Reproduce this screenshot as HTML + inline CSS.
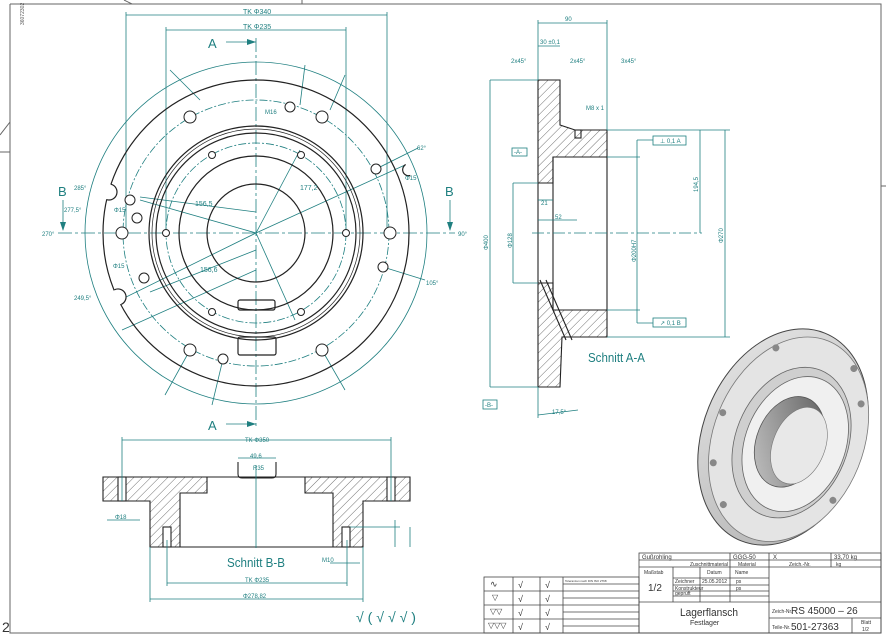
<!DOCTYPE html>
<html><head><meta charset="utf-8"><style>
html,body{margin:0;padding:0;background:#fff}
svg{display:block}
text{font-family:"Liberation Sans",sans-serif}
</style></head><body>
<svg width="886" height="637" viewBox="0 0 886 637" xmlns="http://www.w3.org/2000/svg">
<defs>
<pattern id="h" width="6" height="6" patternUnits="userSpaceOnUse" patternTransform="rotate(45)">
<line x1="0" y1="0" x2="0" y2="6" stroke="#333" stroke-width="0.7"/></pattern>
<linearGradient id="g1" x1="0" y1="0" x2="1" y2="1"><stop offset="0" stop-color="#e6e6e6"/><stop offset="1" stop-color="#b0b0b0"/></linearGradient>
<linearGradient id="g2" x1="1" y1="0" x2="0" y2="1"><stop offset="0" stop-color="#5a5a5a"/><stop offset="1" stop-color="#c8c8c8"/></linearGradient>
</defs>
<g stroke="#666" stroke-width="1" fill="none">
<polyline points="10,4 881,4 881,633 10,633 10,4"/>
<line x1="302" y1="0" x2="302" y2="4"/><line x1="124" y1="0" x2="132" y2="4"/>
<line x1="0" y1="152" x2="10" y2="152"/><line x1="0" y1="135" x2="10" y2="122"/>
<line x1="881" y1="186" x2="886" y2="186"/>
</g>
<text x="3" y="40" font-size="5" fill="#555" transform="rotate(-90 6 22)">36072302</text>
<text x="2" y="632" font-size="14" fill="#333">2</text>

<g fill="none" stroke="#1f7f80" stroke-width="0.8">
<circle cx="256" cy="233" r="171"/>
<circle cx="256" cy="233" r="133" stroke-dasharray="8,2,2,2"/>
<circle cx="256" cy="233" r="90" stroke-dasharray="8,2,2,2"/>
<line x1="58" y1="233" x2="455" y2="233" stroke-dasharray="14,3,3,3"/>
<line x1="256" y1="38" x2="256" y2="428" stroke-dasharray="14,3,3,3"/>
<line x1="126" y1="12" x2="126" y2="233"/><line x1="387" y1="12" x2="387" y2="233"/>
<line x1="166" y1="27" x2="166" y2="233"/><line x1="346" y1="27" x2="346" y2="233"/>
<line x1="126" y1="15" x2="387" y2="15"/><line x1="166" y1="30" x2="346" y2="30"/>
<line x1="226" y1="42" x2="256" y2="42"/><line x1="226" y1="424" x2="256" y2="424"/>
<line x1="63" y1="200" x2="63" y2="230"/><line x1="450" y1="200" x2="450" y2="230"/>
<line x1="256" y1="233" x2="405" y2="165"/><line x1="256" y1="233" x2="140" y2="200"/>
<line x1="256" y1="233" x2="120" y2="300"/><line x1="256" y1="233" x2="300" y2="150"/>
<line x1="256" y1="233" x2="295" y2="320"/>
<line x1="140" y1="197" x2="256" y2="212"/><line x1="150" y1="292" x2="256" y2="250"/>
<line x1="122" y1="330" x2="256" y2="270"/>
<line x1="200" y1="100" x2="170" y2="70"/><line x1="300" y1="105" x2="305" y2="65"/>
<line x1="330" y1="110" x2="345" y2="75"/><line x1="322" y1="350" x2="345" y2="390"/>
<line x1="190" y1="350" x2="165" y2="395"/><line x1="223" y1="359" x2="212" y2="405"/>
<line x1="383" y1="267" x2="425" y2="280"/><line x1="376" y1="169" x2="418" y2="148"/>
</g>
<g fill="#1f7f80">
<polygon points="256,42 247,39 247,45"/><polygon points="256,424 247,421 247,427"/>
<polygon points="63,231 60,222 66,222"/><polygon points="450,231 447,222 453,222"/>
</g>
<g fill="none" stroke="#222" stroke-width="1.2">
<circle cx="256" cy="233" r="153"/>
<circle cx="256" cy="233" r="107"/><circle cx="256" cy="233" r="104" stroke-width="0.7"/>
<circle cx="256" cy="233" r="100"/><circle cx="256" cy="233" r="77"/>
<circle cx="256" cy="233" r="49"/>
<rect x="238" y="300" width="37" height="10" rx="2"/><rect x="238" y="337" width="38" height="18" rx="2"/>
</g>
<g fill="#fff" stroke="none">
<circle cx="109" cy="192" r="7.6"/><circle cx="118" cy="297" r="7.6"/><circle cx="408" cy="170" r="5.6"/>
</g>
<g fill="none" stroke="#222" stroke-width="1.2">
<path d="M111.2,184.3 A8,8 0 0 1 106.8,199.7"/>
<path d="M114.6,289.7 A8,8 0 0 1 121.4,304.3"/>
<path d="M405.7,164.5 A6,6 0 0 0 410.3,175.5"/>
</g>
<g fill="#fff" stroke="#222" stroke-width="1">
<circle cx="190" cy="117" r="6"/><circle cx="290" cy="107" r="5"/><circle cx="322" cy="117" r="6"/>
<circle cx="376" cy="169" r="5"/><circle cx="390" cy="233" r="6"/><circle cx="383" cy="267" r="5"/>
<circle cx="322" cy="350" r="6"/><circle cx="223" cy="359" r="5"/><circle cx="190" cy="350" r="6"/>
<circle cx="144" cy="278" r="5"/><circle cx="122" cy="233" r="6"/><circle cx="137" cy="218" r="5"/>
<circle cx="130" cy="200" r="5"/>
<circle cx="212" cy="155" r="3.5"/><circle cx="301" cy="155" r="3.5"/><circle cx="212" cy="312" r="3.5"/>
<circle cx="301" cy="312" r="3.5"/><circle cx="346" cy="233" r="3.5"/><circle cx="166" cy="233" r="3.5"/>
</g>
<g fill="#1f7f80" font-size="7">
<text x="243" y="14">TK Φ340</text><text x="243" y="29">TK Φ235</text>
<text x="208" y="48" font-size="13">A</text><text x="208" y="430" font-size="13">A</text>
<text x="58" y="196" font-size="13">B</text><text x="445" y="196" font-size="13">B</text>
<text x="42" y="236" font-size="6">270°</text><text x="458" y="236" font-size="6">90°</text>
<text x="74" y="190" font-size="6">285°</text><text x="64" y="212" font-size="6">277,5°</text>
<text x="74" y="300" font-size="6">249,5°</text><text x="195" y="206">156,5</text><text x="200" y="272">156,6</text>
<text x="300" y="190">177,2</text><text x="114" y="212" font-size="6">Φ15</text><text x="113" y="268" font-size="6">Φ15</text>
<text x="405" y="180" font-size="6">Φ15</text><text x="265" y="114" font-size="6">M16</text>
<text x="417" y="150" font-size="6">62°</text><text x="426" y="285" font-size="6">105°</text>
</g>

<g stroke="#222" stroke-width="1.1" fill="url(#h)">
<polygon points="538,80 560,80 560,125 575,130 607,130 607,157 553,157 553,183 538,183"/>
<polygon points="538,283 553,283 553,310 607,310 607,337 562,337 560,387 538,387"/>
</g>
<g stroke="#222" stroke-width="1.1" fill="none">
<line x1="538" y1="183" x2="538" y2="283"/><line x1="553" y1="157" x2="553" y2="310"/>
<line x1="607" y1="157" x2="607" y2="310"/>
<line x1="540" y1="280" x2="566" y2="340"/><line x1="546" y1="280" x2="572" y2="340"/>
<rect x="575" y="130" width="6" height="8"/>
</g>
<g fill="none" stroke="#1f7f80" stroke-width="0.8">
<line x1="538" y1="20" x2="538" y2="80"/><line x1="607" y1="20" x2="607" y2="130"/>
<line x1="538" y1="23" x2="607" y2="23"/><line x1="538" y1="46" x2="560" y2="46"/>
<line x1="490" y1="80" x2="538" y2="80"/><line x1="490" y1="387" x2="538" y2="387"/>
<line x1="490" y1="80" x2="490" y2="387"/>
<line x1="607" y1="130" x2="730" y2="130"/><line x1="607" y1="337" x2="730" y2="337"/>
<line x1="725" y1="130" x2="725" y2="337"/><line x1="700" y1="130" x2="700" y2="233"/>
<line x1="532" y1="233" x2="702" y2="233" stroke-dasharray="12,3,3,3"/>
<line x1="607" y1="157" x2="640" y2="157"/><line x1="607" y1="310" x2="640" y2="310"/>
<line x1="637" y1="140" x2="637" y2="323"/><line x1="637" y1="140" x2="655" y2="140"/><line x1="637" y1="323" x2="655" y2="323"/>
<line x1="513" y1="183" x2="538" y2="183"/><line x1="513" y1="283" x2="538" y2="283"/><line x1="513" y1="183" x2="513" y2="283"/>
<line x1="538" y1="220" x2="577" y2="220"/><line x1="538" y1="200" x2="553" y2="200"/>
<line x1="538" y1="387" x2="538" y2="418"/><line x1="538" y1="415" x2="578" y2="410"/>
</g>
<g fill="#fff" stroke="#1f7f80" stroke-width="0.8">
<rect x="653" y="136" width="33" height="9"/><rect x="653" y="318" width="33" height="9"/>
<rect x="512" y="148" width="15" height="8"/><rect x="483" y="400" width="14" height="9"/>
</g>
<g fill="#1f7f80" font-size="6">
<text x="565" y="21">90</text><text x="540" y="44">30 ±0,1</text><text x="511" y="63">2x45°</text>
<text x="570" y="63">2x45°</text><text x="621" y="63">3x45°</text><text x="586" y="110">M8 x 1</text>
<text x="660" y="143">⊥ 0,1 A</text><text x="660" y="325">↗ 0,1 B</text>
<text x="514" y="154">-A-</text><text x="485" y="407">-B-</text>
<text x="541" y="205">21</text><text x="555" y="219">52</text><text x="552" y="414">17,5°</text>
<text x="588" y="362" font-size="13" textLength="57" lengthAdjust="spacingAndGlyphs">Schnitt A-A</text>
<text transform="translate(488 250) rotate(-90)">Φ400</text>
<text transform="translate(512 248) rotate(-90)">Φ128</text>
<text transform="translate(636 262) rotate(-90)">Φ200H7</text>
<text transform="translate(698 192) rotate(-90)">194,5</text>
<text transform="translate(723 243) rotate(-90)">Φ270</text>
</g>

<g stroke="#222" stroke-width="1.1" fill="url(#h)">
<polygon points="103,477 207,477 207,493 180,493 180,547 150,547 150,501 103,501"/>
<polygon points="305,477 410,477 410,501 363,501 363,547 333,547 333,493 305,493"/>
</g>
<g stroke="#222" stroke-width="1.1" fill="none">
<line x1="207" y1="477" x2="305" y2="477"/><line x1="180" y1="547" x2="333" y2="547"/>
<rect x="118" y="477" width="8" height="24" fill="#fff"/><rect x="387" y="477" width="8" height="24" fill="#fff"/>
<rect x="163" y="527" width="8" height="20" fill="#fff"/><rect x="342" y="527" width="8" height="20" fill="#fff"/>
<path d="M238,462 v12 q0,4 4,4 h30 q4,0 4,-4 v-12"/>
</g>
<g fill="none" stroke="#1f7f80" stroke-width="0.8">
<line x1="122" y1="437" x2="122" y2="501"/><line x1="391" y1="437" x2="391" y2="501"/>
<line x1="122" y1="440" x2="391" y2="440"/><line x1="256" y1="465" x2="256" y2="548"/>
<line x1="238" y1="458" x2="276" y2="458"/>
<line x1="167" y1="540" x2="167" y2="586"/><line x1="347" y1="540" x2="347" y2="586"/>
<line x1="167" y1="583" x2="347" y2="583"/>
<line x1="150" y1="547" x2="150" y2="602"/><line x1="363" y1="547" x2="363" y2="602"/>
<line x1="150" y1="599" x2="363" y2="599"/>
<line x1="107" y1="520" x2="140" y2="520"/><line x1="330" y1="563" x2="360" y2="563"/>
<line x1="350" y1="527" x2="400" y2="527"/><line x1="395" y1="520" x2="395" y2="547"/>
<line x1="410" y1="527" x2="410" y2="547"/>
</g>
<g fill="#1f7f80" font-size="6">
<text x="245" y="442">TK Φ350</text><text x="250" y="458">49,6</text><text x="253" y="470">R35</text>
<text x="115" y="519">Φ18</text><text x="322" y="562">M10</text>
<text x="245" y="582">TK Φ235</text><text x="243" y="598">Φ278,82</text>
<text x="227" y="567" font-size="13" textLength="58" lengthAdjust="spacingAndGlyphs">Schnitt B-B</text>
<text x="356" y="622" font-size="14" textLength="60" lengthAdjust="spacingAndGlyphs">√ ( √ √ √ )</text>
</g>

<g transform="translate(783 437) rotate(22)">
<ellipse cx="0" cy="0" rx="80" ry="112" fill="url(#g1)" stroke="#444" stroke-width="1"/>
<ellipse cx="6" cy="0" rx="75" ry="106" fill="#e4e4e4" stroke="#777" stroke-width="0.8"/>
<ellipse cx="10" cy="2" rx="56" ry="78" fill="#cfcfcf" stroke="#666" stroke-width="0.8"/>
<ellipse cx="14" cy="2" rx="50" ry="70" fill="#f0f0f0" stroke="#666" stroke-width="0.8"/>
<ellipse cx="8" cy="2" rx="33" ry="47" fill="url(#g2)" stroke="#555" stroke-width="0.8"/>
<ellipse cx="18" cy="2" rx="26" ry="40" fill="#e8e8e8" stroke="#777" stroke-width="0.6"/>
<g fill="#888"><circle cx="-40" cy="-80" r="3.5"/><circle cx="40" cy="-90" r="3.5"/><circle cx="60" cy="-60" r="3.5"/>
<circle cx="-65" cy="0" r="3.5"/><circle cx="-55" cy="50" r="3.5"/><circle cx="-30" cy="85" r="3.5"/><circle cx="70" cy="40" r="3.5"/></g>
</g>

<g stroke="#444" stroke-width="0.8" fill="none">
<rect x="639" y="553" width="242" height="80"/>
<line x1="639" y1="560" x2="881" y2="560"/><line x1="639" y1="567" x2="881" y2="567"/>
<line x1="673" y1="578" x2="769" y2="578"/><line x1="673" y1="585" x2="769" y2="585"/>
<line x1="673" y1="591" x2="769" y2="591"/><line x1="673" y1="596" x2="769" y2="596"/>
<line x1="639" y1="602" x2="881" y2="602"/><line x1="769" y1="618" x2="881" y2="618"/>
<line x1="673" y1="567" x2="673" y2="602"/><line x1="700" y1="567" x2="700" y2="602"/>
<line x1="730" y1="553" x2="730" y2="602"/><line x1="769" y1="553" x2="769" y2="633"/>
<line x1="831" y1="553" x2="831" y2="567"/><line x1="852" y1="618" x2="852" y2="633"/>
<rect x="484" y="577" width="155" height="56"/>
<line x1="484" y1="591" x2="639" y2="591"/><line x1="484" y1="605" x2="639" y2="605"/><line x1="484" y1="619" x2="639" y2="619"/>
<line x1="513" y1="577" x2="513" y2="633"/><line x1="540" y1="577" x2="540" y2="633"/><line x1="563" y1="577" x2="563" y2="633"/>
<line x1="563" y1="584" x2="639" y2="584"/><line x1="563" y1="598" x2="639" y2="598"/><line x1="563" y1="612" x2="639" y2="612"/><line x1="563" y1="626" x2="639" y2="626"/>
</g>
<g fill="#333" font-size="6">
<text x="642" y="559">Gußrohling</text><text x="690" y="566" font-size="5">Zuschnittmaterial</text>
<text x="733" y="559">GGG-50</text><text x="738" y="566" font-size="5">Material</text>
<text x="773" y="559">X</text><text x="789" y="566" font-size="5">Zeich.-Nr.</text>
<text x="834" y="559">33,70 kg</text><text x="836" y="566" font-size="5">kg</text>
<text x="644" y="574" font-size="5">Maßstab</text><text x="648" y="591" font-size="10">1/2</text>
<text x="707" y="574" font-size="5">Datum</text><text x="735" y="574" font-size="5">Name</text>
<text x="675" y="583" font-size="5">Zeichner</text><text x="702" y="583" font-size="5">25.05.2012</text><text x="736" y="583" font-size="5">ps</text>
<text x="675" y="590" font-size="5">Konstrukteur</text><text x="736" y="590" font-size="5">ps</text>
<text x="675" y="595" font-size="5">geprüft</text>
<text x="680" y="616" font-size="11" textLength="58" lengthAdjust="spacingAndGlyphs">Lagerflansch</text><text x="690" y="625" font-size="7">Festlager</text>
<text x="772" y="613" font-size="5">Zeich-Nr.</text><text x="791" y="614" font-size="10">RS 45000 – 26</text>
<text x="772" y="629" font-size="5">Teile-Nr.</text><text x="791" y="630" font-size="10">501-27363</text>
<text x="861" y="624" font-size="5">Blatt</text><text x="862" y="631" font-size="5">1/2</text>
<text x="490" y="587" font-size="9">∿</text><text x="492" y="600" font-size="8">▽</text>
<text x="490" y="614" font-size="8">▽▽</text><text x="488" y="628" font-size="8">▽▽▽</text>
<text x="518" y="588" font-size="9">√</text><text x="518" y="602" font-size="9">√</text><text x="518" y="616" font-size="9">√</text><text x="518" y="630" font-size="9">√</text>
<text x="545" y="588" font-size="9">√</text><text x="545" y="602" font-size="9">√</text><text x="545" y="616" font-size="9">√</text><text x="545" y="630" font-size="9">√</text>
<text x="565" y="582" font-size="3">Toleranzen nach DIN ISO 2768</text>
</g>
</svg>
</body></html>
